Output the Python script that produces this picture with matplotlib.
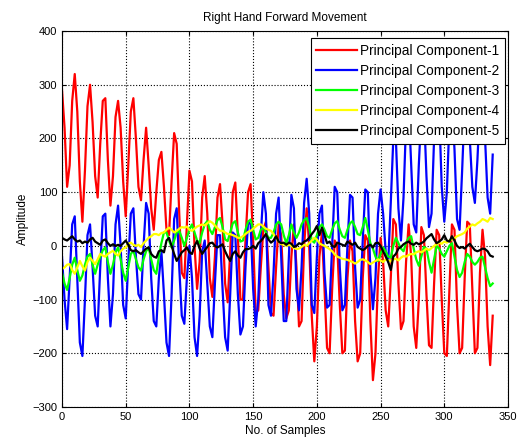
import numpy as np
import matplotlib.pyplot as plt

plt.rcParams['font.family'] = ['Liberation Sans', 'DejaVu Sans']

# sample index (every second sample)
samples = np.arange(0, 340, 2)

pc1 = [290, 220, 110, 150, 270, 320, 250, 120, 45, 140,
       260, 300, 230, 130, 90, 190, 270, 275, 160, 75,
       130, 240, 270, 220, 120, 55, 150, 250, 275, 200,
       110, 85, 160, 220, 150, 70, 30, 100, 160, 175,
       110, 30, 20, 120, 210, 190, 60, -50, -60, 40,
       140, 120, 0, -80, -30, 90, 130, 60, -60, -95,
       -20, 90, 115, 40, -70, -105, -10, 100, 118, 20,
       -100, -100, 10, 100, 115, 10, -125, -120, -40, 30,
       45, -40, -125, -130, -40, 40, 20, -90, -135, -120,
       -20, 40, -40, -150, -140, 0, 70, 0, -130, -215,
       -150, -20, 25, -80, -190, -200, -80, 10, 0, -110,
       -200, -195, -60, 10, -10, -140, -215, -200, -60, 20,
       10, -140, -250, -200, -60, 15, -30, -120, -150, -60,
       50, 40, -70, -155, -140, -30, 40, -20, -150, -190,
       -100, 35, 20, -90, -185, -190, -70, 30, 20, -100,
       -200, -205, -80, 40, 30, -110, -200, -190, -60, 45,
       40, -80, -200, -190, -50, 30, -20, -150, -222, -130]

pc2 = [-20, -100, -155, -60, 40, 55, -60, -180, -205, -100,
       20, 40, -40, -130, -150, -40, 55, 60, -60, -150,
       -90, 40, 75, 0, -110, -135, -30, 60, 70, -20,
       -90, -100, 0, 80, 60, -60, -140, -150, -60, -10,
       -90, -180, -205, -90, 50, 70, -40, -130, -145, -60,
       0, -60, -170, -205, -130, -10, 10, -70, -150, -170,
       -70, 20, 20, -80, -170, -195, -90, 25, 20, -90,
       -165, -150, -40, 45, 40, -80, -150, -100, 20, 100,
       60, -110, -130, -50, 60, 90, -20, -140, -140, -20,
       95, 70, -80, -120, -40, 80, 125, 60, -110, -125,
       -20, 60, 75, -50, -115, -110, 0, 110, 100, -40,
       -120, -110, 0, 95, 90, -40, -115, -100, 10, 105,
       100, -50, -118, -60, 60, 105, 60, -10, -30, 80,
       200, 200, 70, 10, 90, 230, 265, 150, 40, 25,
       150, 250, 255, 130, 35, 60, 200, 275, 250, 110,
       45, 100, 230, 265, 180, 50, 30, 140, 260, 275,
       200, 110, 80, 160, 265, 275, 200, 90, 60, 170]

pc3 = [-50, -70, -82, -60, -35, -22, -45, -65, -55, -35,
       -20, -15, -35, -52, -35, -20, -8, -3, -30, -52,
       -35, -12, -3, -25, -50, -65, -40, -15, -9, -25,
       -40, -46, -25, -10, -3, -25, -45, -52, -20, 5,
       25, 25, 10, -3, 10, 25, 28, 15, 0, 15,
       30, 40, 25, 10, 5, 25, 40, 46, 30, 22,
       35, 48, 52, 35, 12, 9, 25, 42, 46, 25,
       8, 10, 30, 45, 49, 30, 12, 15, 30, 35,
       25, 15, 15, 25, 40, 45, 40, 20, 5, 20,
       40, 25, 15, 25, 40, 48, 52, 35, 10, 6,
       20, 35, 40, 30, 18, 15, 30, 42, 46, 30,
       18, 15, 30, 42, 46, 35, 22, 20, 35, 52,
       30, 5, -5, -20, -28, -15, -3, -10, -20, -22,
       0, 15, 5, -5, -10, 5, 15, 18, -5, -25,
       -37, -20, -2, -5, -30, -50, -25, 0, -5, -15,
       -20, -10, 0, 5, -20, -45, -58, -50, -30, -15,
       -20, -30, -35, -30, -22, -20, -40, -60, -75, -70]

pc4 = [-43, -40, -35, -34, -45, -52, -40, -28, -38, -46,
       -30, -22, -28, -34, -25, -15, -18, -20, -15, -12,
       -9, -15, -18, -10, -5, -3, 4, 6, 2, 0,
       2, -2, 5, 10, 15, 18, 22, 22, 20, 24,
       25, 30, 34, 30, 25, 28, 32, 35, 34, 36,
       30, 28, 32, 36, 38, 40, 38, 42, 46, 43,
       38, 33, 28, 28, 25, 22, 22, 20, 18, 15,
       15, 18, 22, 26, 28, 32, 36, 40, 40, 36,
       32, 30, 28, 22, 15, 8, 3, 3, 0, 2,
       0, -4, -6, -5, -2, 2, 0, 5, 10, 15,
       12, 5, 2, 0, -3, -6, -10, -16, -20, -22,
       -24, -25, -26, -28, -30, -33, -30, -26, -25, -27,
       -30, -34, -31, -28, -25, -27, -30, -25, -27, -29,
       -25, -24, -27, -22, -19, -20, -17, -15, -16, -12,
       -10, -12, -9, -5, -8, -4, 0, 3, 6, 4,
       8, 6, 10, 12, 14, 18, 20, 22, 25, 32,
       36, 40, 38, 42, 45, 50, 48, 45, 52, 50]

pc5 = [15, 12, 10, 14, 18, 12, 8, 10, 5, 8,
       6, 12, 15, 8, 5, 2, 10, 12, 5, 0,
       3, 0, 2, 0, 5, 10, 2, -8, -10, -8,
       -12, -15, -10, -5, -3, -15, -20, -22, -10, -8,
       -12, 10, 15, 0, -15, -28, -20, -12, -8, -3,
       -12, -15, 0, 9, -5, -15, -8, -2, 5, 6,
       0, -3, 0, 3, -10, -20, -28, -15, -10, -18,
       -22, -12, -6, -6, -4, 0, -5, 5, 9, 15,
       22, 12, 6, 10, 18, 8, 5, 6, 2, 6,
       4, -2, 0, 5, 3, 8, 10, 15, 22, 28,
       37, 20, 34, 20, 5, 8, 0, -2, 6, 4,
       2, 0, 8, 5, 2, 6, -2, -5, -8, -5,
       0, 2, -3, 5, 6, 0, -10, -20, -30, -45,
       -20, -15, -5, -2, 3, 6, 8, 4, 2, 6,
       3, 5, 8, 14, 18, 22, 12, 5, 8, 12,
       20, 10, 8, 18, 10, 0, -4, -2, -5, 0,
       4, -2, -8, -10, -8, -5, -6, -10, -18, -20]

labels = ['Principal Component-1', 'Principal Component-2', 'Principal Component-3',
          'Principal Component-4', 'Principal Component-5']
colors = ['#FF0000', '#0000FF', '#00FF00', '#FFFF00', '#000000']

fig = plt.figure(figsize=(5.18, 4.47), dpi=100)
ax = fig.add_axes([0.1197, 0.0895, 0.861, 0.841])

for series, c, lab in zip([pc1, pc2, pc3, pc4, pc5], colors, labels):
    ax.plot(samples, series, color=c, linewidth=1.6, label=lab)

ax.set_xlim(0, 350)
ax.set_ylim(-300, 400)
ax.set_xticks(np.arange(0, 351, 50))
ax.set_yticks(np.arange(-300, 401, 100))
ax.tick_params(direction='in', labelsize=8, length=3, top=True, right=True)
ax.grid(True, linestyle=':', color='black', linewidth=0.8)
for s in ax.spines.values():
    s.set_linewidth(0.8)

ax.set_title('Right Hand Forward Movement', fontsize=8.5, pad=7)
ax.set_xlabel('No. of Samples', fontsize=8.5, labelpad=2)
ax.set_ylabel('Amplitude', fontsize=8.5, labelpad=2)

leg = ax.legend(loc='upper right', bbox_to_anchor=(0.993, 0.981), fontsize=9.8,
                fancybox=False, framealpha=1, edgecolor='black',
                handlelength=3.0, handletextpad=0.25, labelspacing=0.45,
                borderpad=0.4, borderaxespad=0)
leg.get_frame().set_linewidth(0.8)
leg.set_zorder(20)

plt.savefig('out.png', dpi=100)
